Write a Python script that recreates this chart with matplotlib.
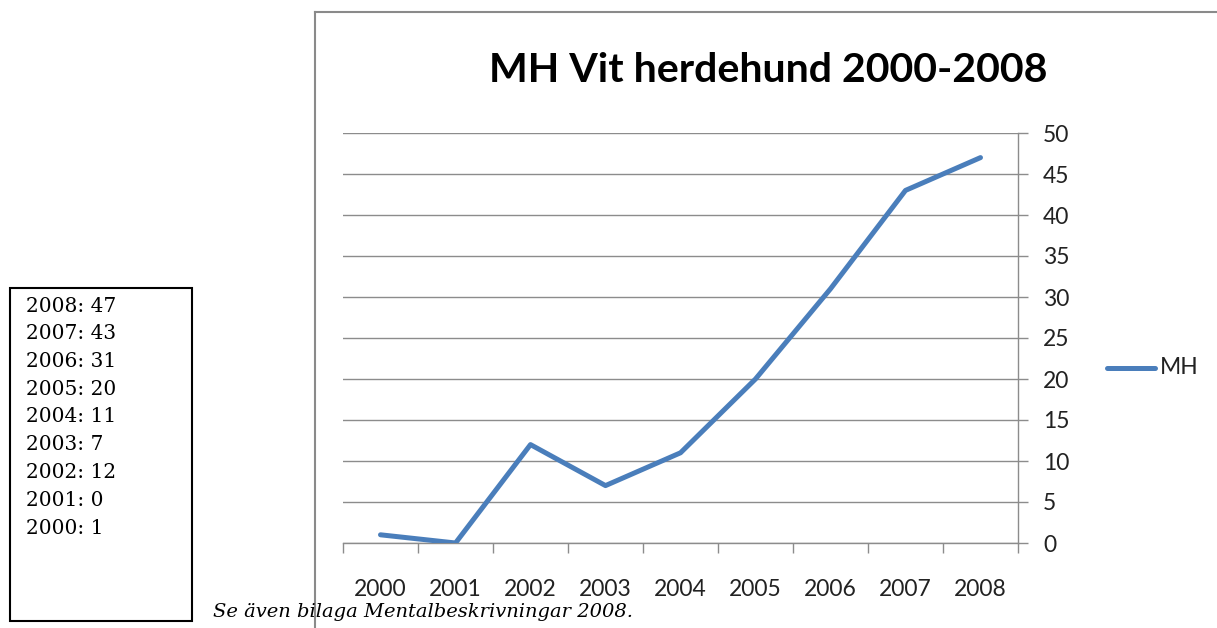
import matplotlib.pyplot as plt
from matplotlib.lines import Line2D
from matplotlib.patches import Rectangle
import numpy as np

years = ["2000", "2001", "2002", "2003", "2004", "2005", "2006", "2007", "2008"]
mh_counts = [1, 0, 12, 7, 11, 20, 31, 43, 47]
y_ticks = [0, 5, 10, 15, 20, 25, 30, 35, 40, 45, 50]

W, H = 1217, 628
LINE_BLUE = "#4A7EBB"
GRID_GRAY = "#8C8C8C"
SANS = "Lato"

fig = plt.figure(figsize=(W / 100, H / 100), dpi=100)
fig.patch.set_facecolor("white")


def fx(px):
    return px / W


def fy(py):
    return 1 - py / H


# plot area in pixel coords of the reference
left, right, top, bottom = 343, 1018, 133, 543
ax = fig.add_axes([fx(left), fy(bottom), fx(right - left), fy(top) - fy(bottom)])

x = np.arange(len(years))
ax.plot(x, mh_counts, color=LINE_BLUE, lw=3.6, solid_capstyle="round",
        solid_joinstyle="round", label="MH", zorder=3)

ax.set_xlim(-0.5, len(years) - 0.5)
ax.set_ylim(0, 50)

# gridlines
ax.set_yticks(y_ticks)
ax.yaxis.grid(True, color=GRID_GRAY, lw=1)
ax.set_axisbelow(True)

# y axis on the right
ax.yaxis.tick_right()
ax.tick_params(axis="y", which="major", direction="out", length=7, width=1,
               color=GRID_GRAY, pad=11, labelsize=16.5, labelcolor="#222222")

# x: boundary ticks, labels at category centers
ax.set_xticks(np.arange(-0.5, len(years), 1.0))
ax.set_xticklabels([])
ax.set_xticks(x, minor=True)
ax.set_xticklabels(years, minor=True)
ax.tick_params(axis="x", which="major", direction="out", length=7, width=1,
               color=GRID_GRAY)
ax.tick_params(axis="x", which="minor", length=0, pad=26, labelsize=16.5,
               labelcolor="#222222")

for lbl in ax.get_xticklabels(minor=True) + ax.get_yticklabels():
    lbl.set_fontfamily(SANS)

for side in ["top", "left"]:
    ax.spines[side].set_visible(False)
for side in ["right", "bottom"]:
    ax.spines[side].set_color(GRID_GRAY)
    ax.spines[side].set_linewidth(1)

# title
fig.text(fx(768), fy(70), "MH Vit herdehund 2000-2008", ha="center", va="center",
         fontsize=29.6, fontweight="bold", fontfamily=SANS, color="black")

# legend
fig.add_artist(Line2D([fx(1107), fx(1155)], [fy(368), fy(368)], color=LINE_BLUE,
                      lw=3.6, solid_capstyle="round"))
fig.text(fx(1160), fy(368), "MH", ha="left", va="center", fontsize=16.5,
         fontfamily=SANS, color="#222222")

# chart frame (top and left edge of chart object)
fig.add_artist(Line2D([fx(315), fx(1217)], [fy(12), fy(12)], color="#8A8A8A", lw=1.5))
fig.add_artist(Line2D([fx(315), fx(315)], [fy(12), fy(628)], color="#8A8A8A", lw=1.5))

# data box on the left
fig.add_artist(Rectangle((fx(10), fy(621)), fx(182), fy(288) - fy(621),
                         fill=False, edgecolor="black", lw=1.5))
for i, (yr, val) in enumerate(zip(years[::-1], mh_counts[::-1])):
    fig.text(fx(26), fy(306 + i * 27.75), f"{yr}: {val}", ha="left", va="center",
             fontsize=14.5, fontfamily="DejaVu Serif", color="black")

fig.text(fx(213), fy(612), "Se även bilaga Mentalbeskrivningar 2008.", ha="left",
         va="center", fontsize=14, fontfamily="DejaVu Serif", style="italic",
         color="black")

fig.savefig("out.png", dpi=100)
